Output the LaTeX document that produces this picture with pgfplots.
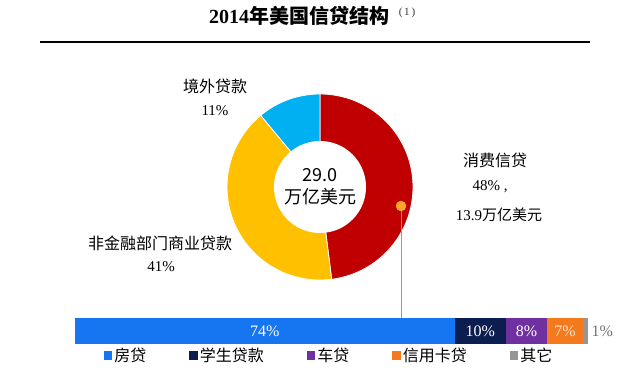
\documentclass[border=0pt]{standalone}
\usepackage{pgfplots}
\pgfplotsset{compat=1.18}
\usepackage{fontspec}
\setmainfont{Liberation Serif}
\newfontfamily\cjk{Noto Sans CJK SC}
\definecolor{cred}{RGB}{192,0,0}
\definecolor{cyel}{RGB}{255,192,0}
\definecolor{cblu}{RGB}{0,176,240}
\definecolor{bblue}{RGB}{22,117,240}
\definecolor{bnavy}{RGB}{12,30,80}
\definecolor{bpurp}{RGB}{112,48,160}
\definecolor{borng}{RGB}{245,122,30}
\definecolor{bgray}{RGB}{150,150,150}
\definecolor{dotc}{RGB}{255,165,40}
\begin{document}
\begin{tikzpicture}[x=1pt,y=1pt]
\path (0,0) rectangle (640,367);
% title
\node[font=\cjk\bfseries\fontsize{20}{20}\selectfont] at (299,351) {{\rmfamily\bfseries 2014}年美国信贷结构};
\node[font=\fontsize{11}{11}\selectfont, text=black!80] at (407,354) {(\,1\,)};
\draw[line width=1.2pt] (40,325) -- (590,325);
% donut
\begin{axis}[at={(320pt,180pt)}, anchor=center, scale only axis, width=200pt, height=200pt,
  xmin=-100, xmax=100, ymin=-100, ymax=100, hide axis, clip=false]
\addplot[fill=cred, draw=white, line width=0.8pt, domain=90:-82.8, samples=80] ({93*cos(x)},{93*sin(x)}) -- (axis cs:0,0) -- cycle;
\addplot[fill=cyel, draw=white, line width=0.8pt, domain=-82.8:-230.4, samples=80] ({93*cos(x)},{93*sin(x)}) -- (axis cs:0,0) -- cycle;
\addplot[fill=cblu, draw=white, line width=0.8pt, domain=-230.4:-270, samples=30] ({93*cos(x)},{93*sin(x)}) -- (axis cs:0,0) -- cycle;
\addplot[fill=white, draw=none, domain=0:360, samples=90] ({46*cos(x)},{46*sin(x)}) -- cycle;
\addplot[color=gray!80, line width=0.7pt] coordinates {(81,-19) (81,-131)};
\addplot[only marks, mark=*, mark size=5pt, color=dotc] coordinates {(81,-19)};
\node[font=\cjk\fontsize{18}{18}\selectfont] at (axis cs:0,12) {29.0};
\node[font=\cjk\fontsize{18}{18}\selectfont] at (axis cs:0,-10) {万亿美元};
\end{axis}
% labels
\node[font=\cjk\fontsize{16}{16}\selectfont] at (215,281) {境外贷款};
\node[font=\fontsize{15}{15}\selectfont] at (215,256) {11\%};
\node[font=\cjk\fontsize{16}{16}\selectfont] at (160,124) {非金融部门商业贷款};
\node[font=\fontsize{15}{15}\selectfont] at (161,100) {41\%};
\node[font=\cjk\fontsize{16}{16}\selectfont] at (495,207) {消费信贷};
\node[font=\fontsize{15}{15}\selectfont] at (490,180) {48\% ,};
\node[font=\fontsize{15}{15}\selectfont] at (499,152) {13.9{\cjk 万亿美元}};
% stacked bar
\begin{axis}[at={(75pt,23pt)}, anchor=south west, scale only axis, width=513pt, height=26pt,
  xbar stacked, bar width=26pt, xmin=0, xmax=100, ymin=-0.5, ymax=0.5, hide axis, clip=false,
  legend columns=5,
  legend style={at={(0.05,-0.45)}, anchor=west, draw=none, fill=none,
    font=\cjk\fontsize{16}{16}\selectfont,
    /tikz/every even column/.append style={column sep=41pt}},
  legend image code/.code={\fill[#1] (0pt,-4pt) rectangle (8.5pt,4.5pt);}]
\addplot[fill=bblue, draw=none] coordinates {(74,0)};
\addplot[fill=bnavy, draw=none] coordinates {(10,0)};
\addplot[fill=bpurp, draw=none] coordinates {(8,0)};
\addplot[fill=borng, draw=none] coordinates {(7,0)};
\addplot[fill=bgray, draw=none] coordinates {(1,0)};
\legend{房贷,学生贷款,车贷,信用卡贷,其它}
\coordinate (l1) at (axis cs:37,0);
\coordinate (l2) at (axis cs:79,0);
\coordinate (l3) at (axis cs:88,0);
\coordinate (l4) at (axis cs:95.5,0);
\coordinate (l5) at (axis cs:100,0);
\end{axis}
\node[white, font=\fontsize{16}{16}\selectfont] at (l1) {74\%};
\node[white, font=\fontsize{16}{16}\selectfont] at (l2) {10\%};
\node[white, font=\fontsize{16}{16}\selectfont] at (l3) {8\%};
\node[white!80!orange, font=\fontsize{16}{16}\selectfont] at (l4) {7\%};
\node[black!55, font=\fontsize{16}{16}\selectfont, anchor=west] at (l5) {1\%};
\end{tikzpicture}
\end{document}
